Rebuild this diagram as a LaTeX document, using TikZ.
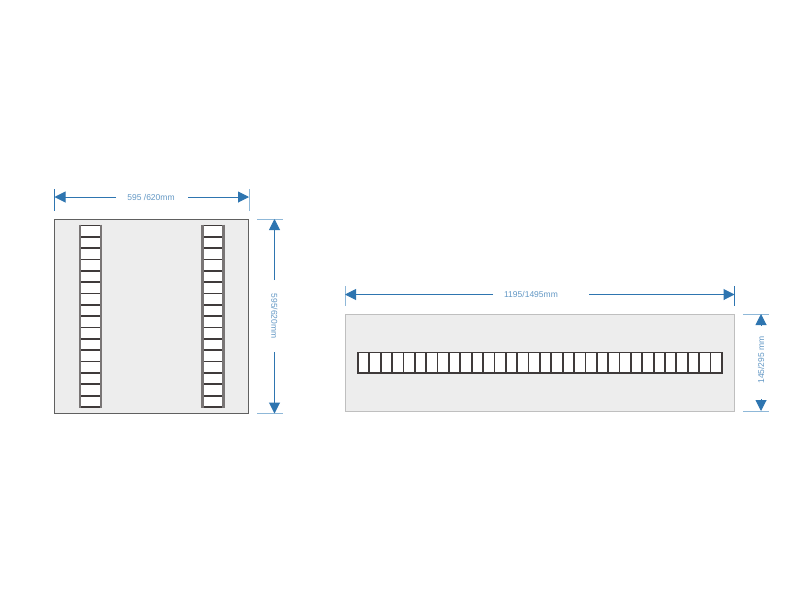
\documentclass[tikz,border=0pt]{standalone}
\usepackage{fontspec}
\setmainfont{Liberation Sans}
\usetikzlibrary{arrows.meta}
\definecolor{dimblue}{HTML}{2E75B0}
\definecolor{ticklt}{HTML}{8FB8D8}
\definecolor{panelfill}{HTML}{EDEDED}
\definecolor{ladderc}{HTML}{3F3A3A}
\tikzset{
  x=1pt,y=-1pt,
  panelbox/.style={fill=panelfill,draw=#1,line width=1pt,outer sep=0pt,inner sep=0pt,anchor=north west},
  ladderline/.style={draw=ladderc,line width=1.8pt},
  dimarrow/.style={draw=dimblue,line width=1pt,-{Triangle[length=11pt,width=11pt,fill=dimblue]}},
  ticks/.style={draw=ticklt,line width=1pt},
  dimtext/.style={text=dimblue!75!white,font=\fontsize{8.5}{9}\selectfont,inner sep=0pt}
}
\begin{document}
\begin{tikzpicture}
\useasboundingbox (0,0) rectangle (800,600);
% left panel
\node[panelbox=gray!75!black,minimum width=194.5pt,minimum height=193.5pt] (panelA) at (54,219.5) {};
\foreach \xa/\xb in {80/101,202.5/223.5}{
  \fill[white] (\xa,225.5) rectangle (\xb,407);
  \foreach \i in {0,...,16}{
    \draw[ladderline] (\xa,225.5+\i*11.34) -- (\xb,225.5+\i*11.34);
  }
  \draw[ladderline,draw=ladderc!70!white,line width=2.2pt] (\xa,224.6) -- (\xa,408.3);
  \draw[ladderline,draw=ladderc!70!white,line width=2.2pt] (\xb,224.6) -- (\xb,408.3);
}
% right panel
\node[panelbox=gray!50!white,minimum width=389pt,minimum height=97pt] (panelB) at (345,314) {};
\fill[white] (358,352.5) rectangle (722,373);
\foreach \i in {0,...,32}{
  \draw[ladderline] (358+\i*11.37,352) -- (358+\i*11.37,373.5);
}
\draw[ladderline] (357,352.5) -- (723,352.5);
\draw[ladderline] (357,373) -- (723,373);
% top-left dimension
\coordinate (a1) at (54.5,197);
\coordinate (a2) at (249,197);
\draw[draw=dimblue,line width=1pt] (54.5,189) -- (54.5,210.5);
\draw[ticks] (249,189) -- (249,210.5);
\node[dimtext] (ta) at (151,197) {595 /620mm};
\coordinate (a1e) at (116,197);
\coordinate (a2e) at (188,197);
\draw[dimarrow] (a1e) -- (a1);
\draw[dimarrow] (a2e) -- (a2);
% left vertical dimension
\coordinate (b1) at (274.5,219);
\coordinate (b2) at (274.5,413.5);
\draw[ticks] (257,219) -- (283,219);
\draw[ticks] (257,413.5) -- (283,413.5);
\node[dimtext,rotate=-90] (tb) at (274.5,316) {595/620mm};
\coordinate (b1e) at (274.5,280);
\coordinate (b2e) at (274.5,352);
\draw[dimarrow] (b1e) -- (b1);
\draw[dimarrow] (b2e) -- (b2);
% top-right dimension
\coordinate (c1) at (345,294.5);
\coordinate (c2) at (734.5,294.5);
\draw[ticks] (345,286) -- (345,305.5);
\draw[draw=dimblue,line width=1pt] (734.5,286) -- (734.5,305.5);
\node[dimtext] (tc) at (531,294.5) {1195/1495mm};
\coordinate (c1e) at (493,294.5);
\coordinate (c2e) at (589,294.5);
\draw[dimarrow] (c1e) -- (c1);
\draw[dimarrow] (c2e) -- (c2);
% right vertical dimension
\coordinate (d1) at (761,314);
\coordinate (d2) at (761,411);
\draw[ticks] (743,314) -- (769,314);
\draw[ticks] (743,411) -- (769,411);
\node[dimtext,rotate=90] (td) at (761,360) {145/295 mm};
\coordinate (d1e) at (761,326);
\coordinate (d2e) at (761,399);
\draw[dimarrow] (d1e) -- (d1);
\draw[dimarrow] (d2e) -- (d2);
\end{tikzpicture}
\end{document}
